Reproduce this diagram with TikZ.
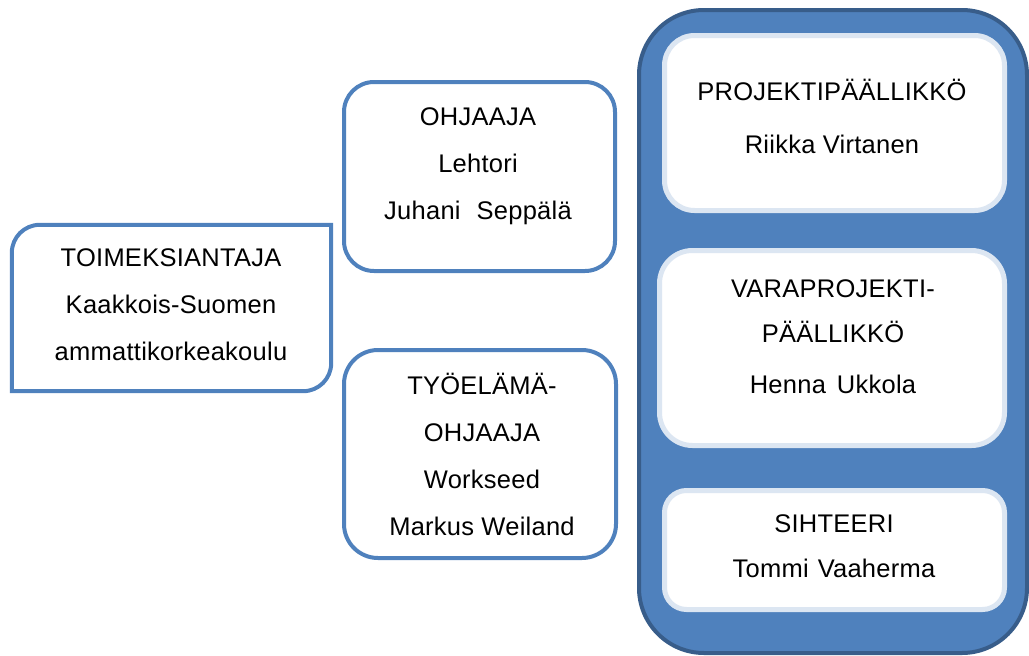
\documentclass[tikz,border=0pt]{standalone}
\usepackage{fontspec}
\setmainfont[LetterSpace=1.0]{Liberation Sans}
\usepackage{xcolor}
\definecolor{boxblue}{HTML}{4F81BD}
\definecolor{darkblue}{HTML}{385D8A}
\definecolor{paleblue}{HTML}{DCE6F2}

\begin{document}
\begin{tikzpicture}[x=1pt, y=-1pt,
        box/.style={rectangle,draw=boxblue,line width=4pt,fill=white,inner sep=0pt},
        group/.style={rectangle,draw=darkblue,line width=4pt,fill=boxblue,inner sep=0pt,rounded corners=65pt},
        inbox/.style={rectangle,draw=paleblue,line width=5pt,fill=white,inner sep=0pt},
        txt/.style={align=center,inner sep=0pt,font=\fontsize{25.5}{47}\selectfont}]

        \useasboundingbox (0,0) rectangle (1029,656);

        % left box, round only top left and bottom right
        \node [inner sep=0pt,minimum width=319pt,minimum height=166pt] (toim) at (171.5,308) {};
        \draw [boxblue,line width=4pt,fill=white] (toim.south west) -- ([yshift=-28pt]toim.north west)
            arc[start angle=180,end angle=90,radius=28pt] -- (toim.north east)
            -- ([yshift=28pt]toim.south east) arc[start angle=0,end angle=-90,radius=28pt] -- cycle;

        \node [box,rounded corners=30pt,minimum width=271pt,minimum height=189pt] (ohj) at (479.5,176.5) {};
        \node [box,rounded corners=34pt,minimum width=272pt,minimum height=208pt] (tyo) at (480,454) {};

        % project group
        \node [group,minimum width=388pt,minimum height=643pt] (team) at (833,331.5) {};
        \node [inbox,rounded corners=30pt,minimum width=340pt,minimum height=175pt] (pp) at (834.5,123) {};
        \node [inbox,rounded corners=33pt,minimum width=345pt,minimum height=195pt] (vpp) at (832,348) {};
        \node [inbox,rounded corners=22pt,minimum width=340pt,minimum height=119pt] (siht) at (834.5,550) {};

        \node [txt] (toimtxt) at (171,305)   {TOIMEKSIANTAJA\\Kaakkois-Suomen\\ammattikorkeakoulu};
        \node [txt] (ohjtxt) at (478,166.5)  {OHJAAJA\\Lehtori\\Juhani\hspace{16pt}Seppälä};
        \node [txt] (tyotxt) at (482,454.5)  {TYÖELÄMÄ-\\OHJAAJA\\Workseed\\Markus Weiland};
        \node [txt] (pptxt) at (832,116)     {PROJEKTIPÄÄLLIKKÖ\\[6pt]Riikka Virtanen};
        \node [txt] (vpptxt) at (833,336.5)  {VARAPROJEKTI-\\[-2pt]PÄÄLLIKKÖ\\[4pt]Henna\hspace{11pt}Ukkola};
        \node [txt] (sihttxt) at (834,546)   {SIHTEERI\\[-2pt]Tommi\hspace{9pt}Vaaherma};
\end{tikzpicture}
\end{document}
